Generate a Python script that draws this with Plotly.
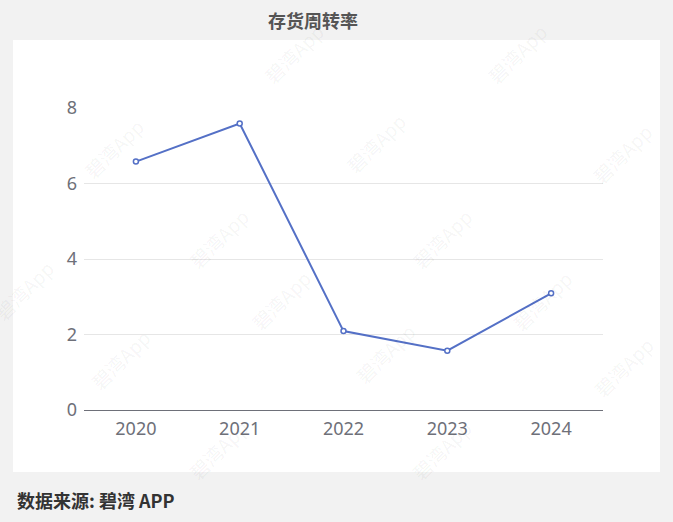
import plotly.graph_objects as go

# data
years = ["2020", "2021", "2022", "2023", "2024"]
turnover = [6.58, 7.59, 2.09, 1.57, 3.09]
y_ticks = [0, 2, 4, 6, 8]

# figure geometry (px)
W, H = 673, 522
L, R, T, B = 84, 70, 108, 112
PW, PH = W - L - R, H - T - B


def px_to_paper(x, y):
    return (x - L) / PW, (H - B - y) / PH


# faint "碧湾App" watermark tiles (pixel centres)
watermarks = [
    (255, 15), (555, 15),
    (75, 110), (375, 105), (660, 115),
    (180, 200), (480, 200),
    (-15, 290), (280, 300), (580, 300),
    (82, 398), (385, 392), (662, 405),
    (180, 488), (480, 488),
]

fig = go.Figure()

fig.add_trace(go.Scatter(
    x=years,
    y=turnover,
    mode="lines+markers",
    line=dict(color="#5470c6", width=2),
    marker=dict(symbol="circle", size=5, color="white",
                line=dict(color="#5470c6", width=1.5)),
    hoverinfo="x+y",
    showlegend=False,
))

# white card behind the plot
x0, y0 = px_to_paper(13, 472)
x1, y1 = px_to_paper(660, 40)
fig.add_shape(type="rect", xref="paper", yref="paper",
              x0=x0, y0=y0, x1=x1, y1=y1,
              fillcolor="white", line=dict(width=0), layer="below")

annotations = []
for wx, wy in watermarks:
    ax, ay = px_to_paper(wx, wy)
    annotations.append(dict(
        text="碧湾App", xref="paper", yref="paper", x=ax, y=ay,
        showarrow=False, textangle=-45,
        font=dict(family="Noto Sans CJK SC", size=19, color="rgba(0,0,0,0.05)"),
    ))

tx, ty = px_to_paper(313, 20)
annotations.append(dict(
    text="<b>存货周转率</b>", xref="paper", yref="paper", x=tx, y=ty,
    showarrow=False, xanchor="center", yanchor="middle",
    font=dict(family="Noto Sans CJK SC", size=18, color="#555555"),
))
fx, fy = px_to_paper(15, 500)
annotations.append(dict(
    text="<b>数据来源: 碧湾 APP</b>", xref="paper", yref="paper", x=fx, y=fy,
    showarrow=False, xanchor="left", yanchor="middle",
    font=dict(family="Noto Sans CJK SC", size=18, color="#333333"),
))

fig.update_layout(
    width=W, height=H,
    margin=dict(l=L, r=R, t=T, b=B, pad=0),
    paper_bgcolor="#f2f2f2",
    plot_bgcolor="white",
    annotations=annotations,
    xaxis=dict(
        type="category", range=[-0.5, 4.5],
        showgrid=False, zeroline=False,
        showline=False, ticks="",
        ticklabelstandoff=6,
        tickfont=dict(family="Noto Sans", size=18, color="#6e7079"),
    ),
    yaxis=dict(
        range=[0, 8], tickvals=y_ticks,
        showgrid=True, gridcolor="#e6e6e6", gridwidth=1,
        zeroline=True, zerolinecolor="#6e7079", zerolinewidth=1,
        showline=False, ticks="",
        ticklabelstandoff=6,
        tickfont=dict(family="Noto Sans", size=18, color="#6e7079"),
    ),
)

# drop the browser's default page margin so the figure sits at (0, 0)
fig.write_html("out.html", config={"displayModeBar": False},
               post_script="document.body.style.margin='0';")
